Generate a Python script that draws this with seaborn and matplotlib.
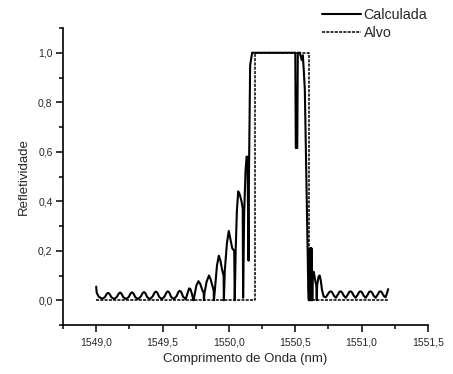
import numpy as np
import pandas as pd
import matplotlib
matplotlib.use("Agg")
import matplotlib.pyplot as plt
from matplotlib.ticker import MultipleLocator, FuncFormatter
import seaborn as sns

# ---- data ----
calc_wl = [
    1549.000, 1549.004, 1549.020, 1549.045,
    1549.065, 1549.080, 1549.090, 1549.100, 1549.115, 1549.135,
    1549.155, 1549.170, 1549.180, 1549.190, 1549.205, 1549.225,
    1549.245, 1549.260, 1549.270, 1549.280, 1549.295, 1549.315,
    1549.335, 1549.350, 1549.360, 1549.370, 1549.385, 1549.405,
    1549.425, 1549.440, 1549.450, 1549.460, 1549.475, 1549.495,
    1549.515, 1549.530, 1549.540, 1549.550, 1549.565, 1549.585,
    1549.605, 1549.620, 1549.630, 1549.640, 1549.655, 1549.675,
    1549.690, 1549.700, 1549.710, 1549.722, 1549.728, 1549.734,
    1549.741, 1549.755, 1549.771, 1549.785, 1549.800, 1549.810, 1549.812,
    1549.816, 1549.832, 1549.850, 1549.862, 1549.875, 1549.885, 1549.887,
    1549.894, 1549.910, 1549.924, 1549.936, 1549.950, 1549.960,
    1549.962, 1549.969, 1549.985, 1549.999, 1550.010, 1550.025, 1550.040,
    1550.044, 1550.051, 1550.060, 1550.070, 1550.080, 1550.095, 1550.104,
    1550.107, 1550.115, 1550.125, 1550.133, 1550.140,
    1550.148, 1550.151, 1550.160, 1550.175, 1550.300, 1550.400, 1550.500,
    1550.504, 1550.515, 1550.519, 1550.534, 1550.549, 1550.557, 1550.564,
    1550.572, 1550.598, 1550.602, 1550.606, 1550.608, 1550.611, 1550.614,
    1550.617, 1550.620, 1550.622, 1550.624, 1550.628, 1550.632, 1550.639,
    1550.650, 1550.658, 1550.662, 1550.665, 1550.675, 1550.684, 1550.692,
    1550.702, 1550.714, 1550.730,
    1550.745, 1550.758, 1550.768, 1550.778, 1550.792, 1550.805,
    1550.820, 1550.832, 1550.842, 1550.852, 1550.866, 1550.880,
    1550.895, 1550.907, 1550.917, 1550.927, 1550.941, 1550.955,
    1550.970, 1550.982, 1550.992, 1551.002, 1551.016, 1551.030,
    1551.045, 1551.057, 1551.067, 1551.077, 1551.091, 1551.105,
    1551.120, 1551.132, 1551.142, 1551.152, 1551.166, 1551.180,
    1551.192, 1551.200,
]
calc_val = [
    0.055, 0.030, 0.014, 0.006,
    0.012, 0.026, 0.030, 0.026, 0.012, 0.005,
    0.013, 0.027, 0.031, 0.027, 0.012, 0.005,
    0.013, 0.028, 0.032, 0.028, 0.012, 0.005,
    0.014, 0.029, 0.033, 0.029, 0.012, 0.005,
    0.015, 0.031, 0.035, 0.031, 0.013, 0.005,
    0.015, 0.032, 0.036, 0.032, 0.013, 0.005,
    0.016, 0.034, 0.038, 0.034, 0.014, 0.005,
    0.030, 0.048, 0.045, 0.025, 0.010, 0.000,
    0.020, 0.060, 0.077, 0.065, 0.040, 0.030, 0.000,
    0.030, 0.075, 0.100, 0.085, 0.060, 0.040, 0.000,
    0.040, 0.140, 0.180, 0.160, 0.120, 0.100,
    0.000, 0.120, 0.230, 0.280, 0.250, 0.210, 0.200,
    0.000, 0.200, 0.360, 0.440, 0.430, 0.400, 0.370,
    0.010, 0.350, 0.520, 0.580, 0.580,
    0.160, 0.500, 0.950, 1.000, 1.000, 1.000, 1.000,
    0.615, 0.615, 1.000, 1.000, 0.970, 0.990, 0.930,
    0.850, 0.050, 0.000, 0.200, 0.000, 0.210, 0.000,
    0.210, 0.000, 0.210, 0.200, 0.000, 0.110, 0.115,
    0.080, 0.060, 0.000, 0.060, 0.095, 0.100, 0.080,
    0.040, 0.015, 0.012,
    0.024, 0.034, 0.036, 0.032, 0.018, 0.010,
    0.022, 0.034, 0.036, 0.032, 0.018, 0.010,
    0.022, 0.034, 0.036, 0.032, 0.018, 0.010,
    0.022, 0.034, 0.036, 0.032, 0.018, 0.010,
    0.022, 0.034, 0.036, 0.032, 0.018, 0.010,
    0.022, 0.034, 0.036, 0.032, 0.018, 0.012,
    0.030, 0.045,
]
target_wl = [1549.0, 1550.2, 1550.2, 1550.6, 1550.6, 1551.2]
target_val = [0.0, 0.0, 1.0, 1.0, 0.0, 0.0]

series_names = ["Calculada", "Alvo"]
x_label = "Comprimento de Onda (nm)"
y_label = "Refletividade"

# ---- style ----
sns.set_style("ticks")
plt.rcParams["font.family"] = ["Liberation Sans", "DejaVu Sans"]

fig = plt.figure(figsize=(4.53, 3.74), dpi=100)
ax = fig.add_axes([63 / 453, 49 / 374, (428 - 63) / 453, (325 - 28) / 374])

df_calc = pd.DataFrame({"wl": calc_wl, "R": calc_val})
df_tgt = pd.DataFrame({"wl": target_wl, "R": target_val})

sns.lineplot(data=df_calc, x="wl", y="R", sort=False, estimator=None,
             color="black", linewidth=1.5, ax=ax, label=series_names[0])
sns.lineplot(data=df_tgt, x="wl", y="R", sort=False, estimator=None,
             color="black", linewidth=1.1, ax=ax, label=series_names[1],
             linestyle=(0, (2, 0.8)))

ax.set_xlim(1548.75, 1551.5)
ax.set_ylim(-0.1, 1.1)
ax.xaxis.set_major_locator(MultipleLocator(0.5))
ax.xaxis.set_minor_locator(MultipleLocator(0.25))
ax.yaxis.set_minor_locator(MultipleLocator(0.1))
comma = FuncFormatter(lambda v, p: f"{v:.1f}".replace(".", ","))
ax.xaxis.set_major_formatter(comma)
ax.yaxis.set_major_formatter(comma)
ax.set_yticks([0.0, 0.2, 0.4, 0.6, 0.8, 1.0])

for s in ["top", "right"]:
    ax.spines[s].set_visible(False)
for s in ["left", "bottom"]:
    ax.spines[s].set_linewidth(1.2)
    ax.spines[s].set_color("black")

ax.tick_params(which="major", length=5, width=1.1, color="black",
               labelsize=7.5, pad=2.5, direction="out")
ax.tick_params(which="minor", length=2.8, width=1.1, color="black",
               direction="out")
ax.tick_params(axis="x", which="major", pad=4)

ax.set_xlabel(x_label, fontsize=9.5, labelpad=4)
ax.set_ylabel(y_label, fontsize=9.5, labelpad=6)

h, l = ax.get_legend_handles_labels()
ax.get_legend().remove()
fig.legend(h, l, loc="upper left", bbox_to_anchor=(322 / 453, 1 - 8 / 374),
           frameon=False, fontsize=10.3, handlelength=2.7, handletextpad=0.2,
           labelspacing=0.25, borderpad=0, borderaxespad=0)

fig.savefig("out.png", dpi=100)
